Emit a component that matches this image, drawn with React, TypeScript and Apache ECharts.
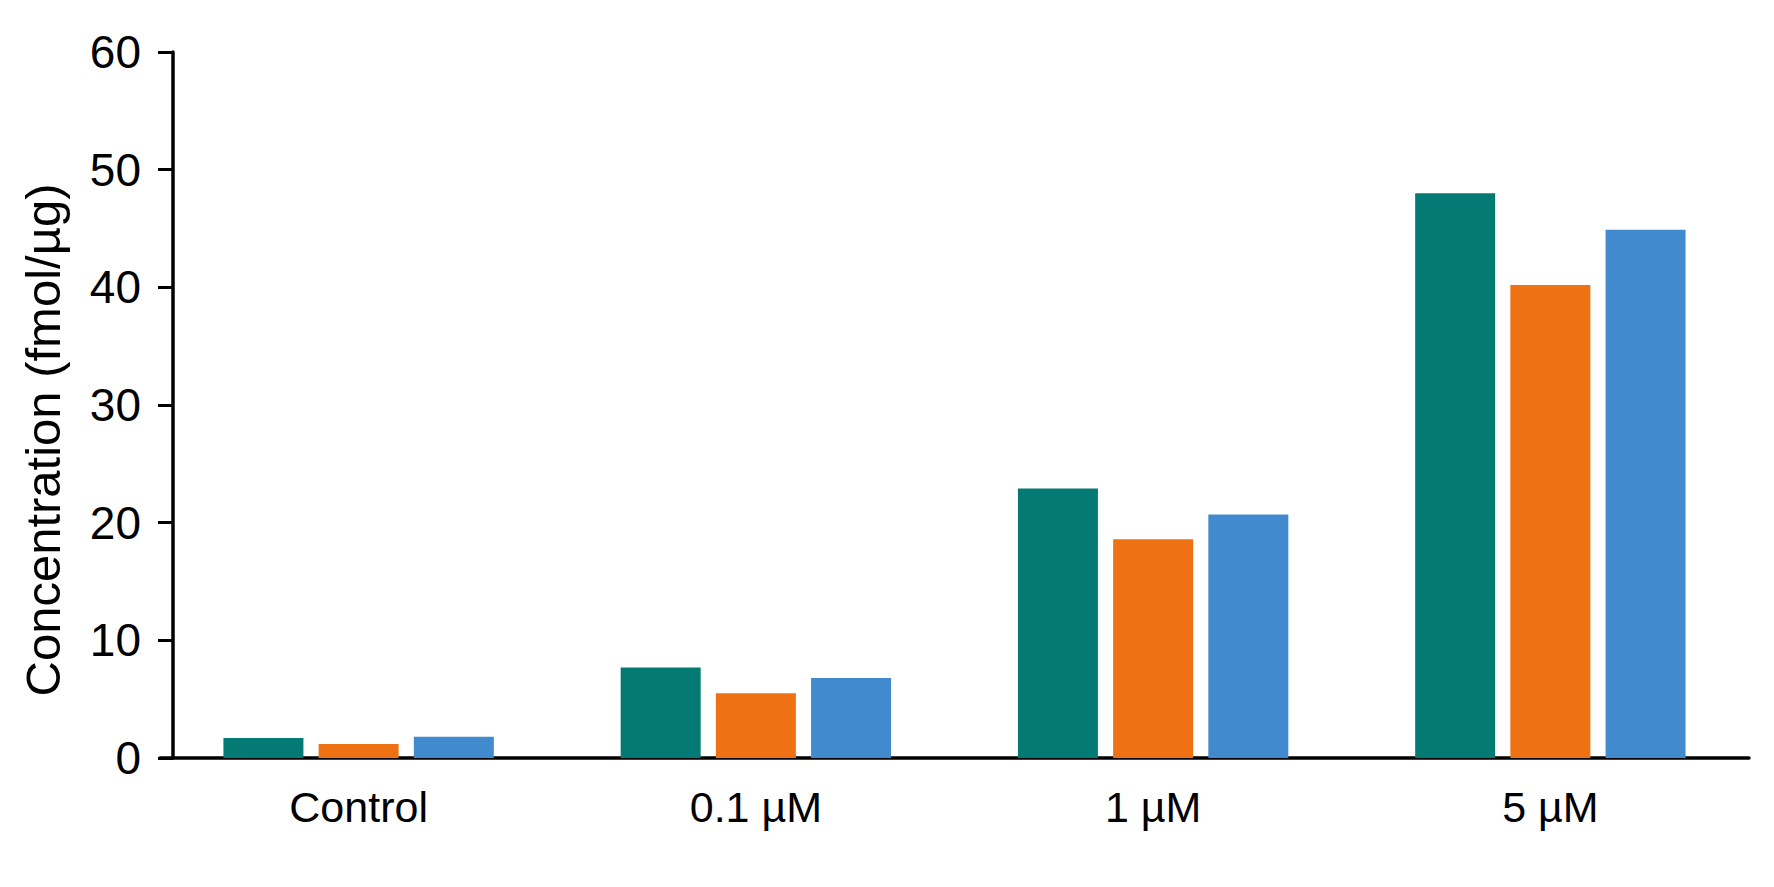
import { useEffect, useRef } from 'react'
import * as echarts from 'echarts'

// Treatment groups along the x axis
const categories = ['Control', '0.1 µM', '1 µM', '5 µM']

// Three replicate series per group (fmol/µg)
const seriesA = [1.7, 7.7, 22.9, 48.0]
const seriesB = [1.2, 5.5, 18.6, 40.2]
const seriesC = [1.8, 6.8, 20.7, 44.9]

const SERIES_COLORS = ['#037b74', '#ee7213', '#418acd']

const FONT = '"Liberation Sans", Arial, Helvetica, sans-serif'

const App: React.FC = () => {
  const chartRef = useRef<HTMLDivElement | null>(null)

  useEffect(() => {
    document.body.style.margin = '0'
    if (!chartRef.current) return
    const chart = echarts.init(chartRef.current, null, { renderer: 'svg' })

    const option: echarts.EChartsOption = {
      animation: false,
      backgroundColor: '#ffffff',
      grid: { left: 160, right: 25, top: 52, bottom: 129 },
      xAxis: {
        type: 'category',
        data: categories,
        axisLine: { show: true, lineStyle: { color: '#000', width: 3.5 } },
        axisTick: { show: false },
        axisLabel: { color: '#000', fontSize: 43, fontFamily: FONT, margin: 27 },
        splitLine: { show: false },
      },
      yAxis: {
        type: 'value',
        min: 0,
        max: 60,
        interval: 10,
        offset: -13,
        axisLine: { show: true, lineStyle: { color: '#000', width: 3.5 } },
        axisTick: { show: true, length: 15, lineStyle: { color: '#000', width: 3 } },
        axisLabel: { color: '#000', fontSize: 46, fontFamily: FONT, margin: 32 },
        splitLine: { show: false },
      },
      graphic: [
        {
          type: 'text',
          x: 43,
          y: 440,
          rotation: Math.PI / 2,
          style: {
            text: 'Concentration (fmol/µg)',
            fontSize: 49,
            fontFamily: FONT,
            fill: '#000',
            align: 'center',
            verticalAlign: 'middle',
          },
        },
      ],
      series: [seriesA, seriesB, seriesC].map((values, i) => ({
        type: 'bar' as const,
        data: values,
        barWidth: 80,
        barGap: '19%',
        itemStyle: { color: SERIES_COLORS[i] },
      })),
    }

    chart.setOption(option)

    return () => {
      chart.dispose()
    }
  }, [])

  return <div ref={chartRef} style={{ width: 1774, height: 887 }} />
}

export default App
